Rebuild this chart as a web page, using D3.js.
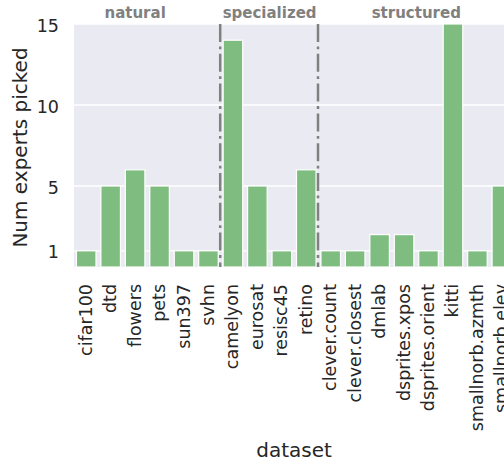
<!DOCTYPE html>
<html><head><meta charset="utf-8">
<script src="https://cdn.jsdelivr.net/npm/d3@7"></script>
<style>html,body{margin:0;padding:0;overflow:hidden;background:#fff;}svg{display:block;font-family:"DejaVu Sans",sans-serif;}</style>
</head><body><div id="chart"></div>
<script>
const categories = ["cifar100","dtd","flowers","pets","sun397","svhn","camelyon","eurosat","resisc45","retino","clever.count","clever.closest","dmlab","dsprites.xpos","dsprites.orient","kitti","smallnorb.azmth","smallnorb.elev"];
const values = [1,5,6,5,1,1,14,5,1,6,1,1,2,2,1,15,1,5];
const yTicks = [1,5,10,15];
const groupNames = ["natural","specialized","structured"];
const groupLabelPos = [2,7.5,13.5];
const groupBoundaries = [5.5,9.5];

(function(){
const W = 504, H = 463;
const pLeft = 74, step = 24.45, pTop = 24, pBottom = 267;
const pRight = pLeft + step * categories.length;

const svg = d3.select("#chart").append("svg").attr("width", W).attr("height", H);

const x = d3.scaleBand().domain(categories).range([pLeft, pRight]).paddingInner(0.2).paddingOuter(0.1);
const xc = d3.scaleLinear().domain([-0.5, categories.length - 0.5]).range([pLeft, pRight]);
const y = d3.scaleLinear().domain([0, 15]).range([pBottom, pTop]);

svg.append("rect").attr("x", pLeft).attr("y", pTop).attr("width", pRight - pLeft).attr("height", pBottom - pTop).attr("fill", "#eaeaf2");

svg.append("g").selectAll("line").data(yTicks).join("line")
  .attr("x1", pLeft).attr("x2", pRight).attr("y1", d => y(d)).attr("y2", d => y(d))
  .attr("stroke", "#fff").attr("stroke-width", 1.3);

svg.append("g").selectAll("rect").data(categories).join("rect")
  .attr("x", d => x(d)).attr("width", x.bandwidth())
  .attr("y", (d, i) => y(values[i])).attr("height", (d, i) => y(0) - y(values[i]))
  .attr("fill", "#7fbc7f").attr("stroke", "#fff").attr("stroke-width", 1.2);

svg.append("g").selectAll("line").data(groupBoundaries).join("line")
  .attr("x1", d => xc(d) - 0.5).attr("x2", d => xc(d) - 0.5).attr("y1", pTop).attr("y2", pBottom)
  .attr("stroke", "#808080").attr("stroke-width", 2.5).attr("stroke-dasharray", "18,4.5,2.8,4.5");

svg.append("g").selectAll("text").data(groupNames).join("text")
  .attr("x", (d, i) => xc(groupLabelPos[i])).attr("y", 18)
  .attr("text-anchor", "middle").attr("font-weight", "bold").attr("font-size", "15px")
  .attr("fill", "#808080").text(d => d);

const yAxis = d3.axisLeft(y).tickValues(yTicks).tickSize(0).tickPadding(0);
const ya = svg.append("g").attr("transform", "translate(59,0)").call(yAxis);
ya.select(".domain").remove();
ya.selectAll("text").attr("font-size", "17.5px").attr("fill", "#262626").attr("font-family", "DejaVu Sans").attr("dy", "0.4em");

svg.append("g").selectAll("text").data(categories).join("text")
  .attr("transform", d => `translate(${x(d) + x.bandwidth() / 2 + 5.5},284) rotate(-90)`)
  .attr("text-anchor", "end").attr("font-size", "17.5px").attr("fill", "#262626").text(d => d);

svg.append("text").attr("transform", `translate(27,${(47 + 248) / 2}) rotate(-90)`)
  .attr("text-anchor", "middle").attr("font-size", "20px").attr("fill", "#262626").text("Num experts picked");
svg.append("text").attr("x", (pLeft + pRight) / 2).attr("y", 457)
  .attr("text-anchor", "middle").attr("font-size", "20px").attr("fill", "#262626").text("dataset");
})();
</script></body></html>
